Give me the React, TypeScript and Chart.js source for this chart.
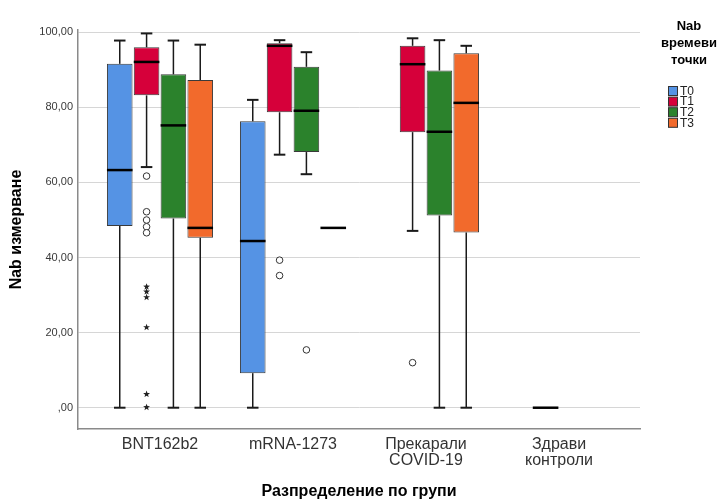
import React, { useEffect, useRef } from 'react';
import { Chart, registerables } from 'chart.js';

Chart.register(...registerables);

// ---------- data ----------
const categories: (string | string[])[] = ['BNT162b2', 'mRNA-1273', ['Прекарали', 'COVID-19'], ['Здрави', 'контроли']];
const categoryIndex = [0, 1, 2, 3];
const seriesNames = ['T0', 'T1', 'T2', 'T3'];
const seriesColors = ['#5593E4', '#D6003A', '#2B822C', '#F26A2C'];

// [min, q1, median, q3, max] per category
const t0Stats = [[0, 48.4, 63.3, 91.6, 97.8], [0, 9.2, 44.4, 76.3, 82.0], null, null];
const t1Stats = [[64.1, 83.2, 92.1, 96.0, 99.7], [67.4, 78.7, 96.4, 97.1, 97.9], [47.1, 73.4, 91.5, 96.4, 98.4], [0, 0, 0, 0, 0]];
const t2Stats = [[0, 50.4, 75.2, 88.8, 97.8], [62.2, 68.1, 79.1, 90.8, 94.7], [0, 51.2, 73.5, 89.8, 97.9], null];
const t3Stats = [[0, 45.3, 47.9, 87.3, 96.7], [47.9, 47.9, 47.9, 47.9, 47.9], [0, 46.7, 81.2, 94.4, 96.4], null];

// outliers (circles) and extremes (stars) per category
const t0Outliers: number[][] = [[], [], [], []];
const t1Outliers: number[][] = [[61.7, 52.2, 50.0, 48.2, 46.6], [39.3, 35.2], [12.0], []];
const t2Outliers: number[][] = [[], [15.4], [], []];
const t3Outliers: number[][] = [[], [], [], []];
const t0Extremes: number[][] = [[], [], [], []];
const t1Extremes: number[][] = [[32.2, 30.9, 29.4, 21.4, 3.6, 0.1], [], [], []];
const t2Extremes: number[][] = [[], [], [], []];
const t3Extremes: number[][] = [[], [], [], []];

const yTickValues = [0, 20, 40, 60, 80, 100];
const yTickLabels = [',00', '20,00', '40,00', '60,00', '80,00', '100,00'];
const legendTitle = ['Nab', 'времеви', 'точки'];

const allStats = [t0Stats, t1Stats, t2Stats, t3Stats];
const allOutliers = [t0Outliers, t1Outliers, t2Outliers, t3Outliers];
const allExtremes = [t0Extremes, t1Extremes, t2Extremes, t3Extremes];

const FONT = "Arial, 'Liberation Sans', sans-serif";

const boxPlugin = {
  id: 'boxDetails',
  afterDatasetsDraw(chart: any) {
    const ctx = chart.ctx;
    const ys = chart.scales.y;
    ctx.save();
    allStats.forEach((stats, di) => {
      const meta = chart.getDatasetMeta(di);
      meta.data.forEach((el: any, i: number) => {
        const s = stats[i];
        if (!s) return;
        const { x, width } = el.getProps(['x', 'width'], true);
        const [mn, q1, md, q3, mx] = s;
        const capW = width * 0.45;
        ctx.strokeStyle = '#1a1a1a';
        ctx.lineCap = 'butt';
        if (mx > q3) {
          ctx.lineWidth = 1.5;
          ctx.beginPath();
          ctx.moveTo(x, ys.getPixelForValue(q3));
          ctx.lineTo(x, ys.getPixelForValue(mx));
          ctx.stroke();
          ctx.lineWidth = 2;
          ctx.beginPath();
          ctx.moveTo(x - capW / 2, ys.getPixelForValue(mx));
          ctx.lineTo(x + capW / 2, ys.getPixelForValue(mx));
          ctx.stroke();
        }
        if (q1 > mn) {
          ctx.lineWidth = 1.5;
          ctx.beginPath();
          ctx.moveTo(x, ys.getPixelForValue(q1));
          ctx.lineTo(x, ys.getPixelForValue(mn));
          ctx.stroke();
          ctx.lineWidth = 2;
          ctx.beginPath();
          ctx.moveTo(x - capW / 2, ys.getPixelForValue(mn));
          ctx.lineTo(x + capW / 2, ys.getPixelForValue(mn));
          ctx.stroke();
        }
        // median
        ctx.strokeStyle = '#000';
        ctx.lineWidth = 2.5;
        ctx.beginPath();
        ctx.moveTo(x - width / 2, ys.getPixelForValue(md));
        ctx.lineTo(x + width / 2, ys.getPixelForValue(md));
        ctx.stroke();
        // outliers
        ctx.lineWidth = 1;
        ctx.strokeStyle = '#333';
        ctx.fillStyle = '#fff';
        allOutliers[di][i].forEach((v) => {
          ctx.beginPath();
          ctx.arc(x, ys.getPixelForValue(v), 3.3, 0, Math.PI * 2);
          ctx.fill();
          ctx.stroke();
        });
        ctx.fillStyle = '#222';
        allExtremes[di][i].forEach((v) => {
          const cy = ys.getPixelForValue(v);
          ctx.beginPath();
          for (let k = 0; k < 10; k++) {
            const r = k % 2 === 0 ? 3.6 : 1.5;
            const a = -Math.PI / 2 + (k * Math.PI) / 5;
            const px = x + r * Math.cos(a);
            const py = cy + r * Math.sin(a);
            if (k === 0) ctx.moveTo(px, py);
            else ctx.lineTo(px, py);
          }
          ctx.closePath();
          ctx.fill();
        });
      });
    });
    ctx.restore();
  },
};

const legendPlugin = {
  id: 'spssLegend',
  afterDraw(chart: any) {
    const ctx = chart.ctx;
    ctx.save();
    ctx.fillStyle = '#000';
    ctx.font = `bold 13px ${FONT}`;
    ctx.textAlign = 'center';
    ctx.textBaseline = 'middle';
    legendTitle.forEach((t, i) => {
      ctx.fillText(t, 689, 26 + i * 17);
    });
    ctx.font = `12px ${FONT}`;
    ctx.textAlign = 'left';
    seriesNames.forEach((n, i) => {
      const cy = 91 + i * 10.6;
      ctx.fillStyle = seriesColors[i];
      ctx.fillRect(668, cy - 4.5, 9, 9);
      ctx.strokeStyle = '#333';
      ctx.lineWidth = 1;
      ctx.strokeRect(668.5, cy - 4.5, 9, 9);
      ctx.fillStyle = '#222';
      ctx.fillText(n, 680, cy + 0.5);
    });
    ctx.restore();
  },
};

export default function App() {
  const ref = useRef<HTMLCanvasElement>(null);
  useEffect(() => {
    if (!ref.current) return;
    const datasets = allStats.map((stats, di) => ({
      label: seriesNames[di],
      data: stats.map((s, i) => ({ x: categoryIndex[i], y: s ? [s[1], s[3]] : null })),
      backgroundColor: seriesColors[di],
      borderColor: '#3a3a3a',
      borderWidth: 1,
      borderSkipped: false,
      categoryPercentage: 0.807,
      barPercentage: 0.954,
    }));
    const chart = new Chart(ref.current, {
      type: 'bar',
      data: { datasets: datasets as any },
      plugins: [boxPlugin, legendPlugin],
      options: {
        animation: false,
        responsive: false,
        devicePixelRatio: 1,
        layout: { padding: { left: 0, right: 80, top: 30, bottom: 0 } },
        plugins: { legend: { display: false }, tooltip: { enabled: false } },
        scales: {
          x: {
            type: 'linear',
            min: -0.6165,
            max: 3.609,
            offset: false,
            afterBuildTicks: (s: any) => {
              s.ticks = categoryIndex.map((v) => ({ value: v }));
            },
            afterFit: (s: any) => {
              s.height = 72;
            },
            grid: { display: false, drawTicks: false },
            border: { display: true, color: '#8a8a8a', width: 1.5 },
            ticks: {
              autoSkip: false,
              maxRotation: 0,
              padding: 8,
              color: '#333',
              font: { family: FONT, size: 16, lineHeight: '16px' },
              callback: (v: any) => categories[v as number] as any,
            },
            title: {
              display: true,
              text: 'Разпределение по групи',
              color: '#000',
              font: { family: FONT, size: 16, weight: 'bold' },
              padding: { top: 0, bottom: 0 },
            },
          },
          y: {
            min: -5.67,
            max: 100.61,
            afterBuildTicks: (s: any) => {
              s.ticks = yTickValues.map((v) => ({ value: v }));
            },
            afterFit: (s: any) => {
              s.width = 78;
            },
            grid: { color: '#d6d6d6', lineWidth: 1, drawTicks: false },
            border: { display: true, color: '#8a8a8a', width: 1.5 },
            ticks: {
              padding: 5,
              color: '#3a3a3a',
              font: { family: FONT, size: 11 },
              callback: (v: any) => yTickLabels[yTickValues.indexOf(v as number)],
            },
            title: {
              display: true,
              text: 'Nab измерване',
              color: '#000',
              font: { family: FONT, size: 16, weight: 'bold' },
              padding: { top: 7, bottom: 0 },
            },
          },
        },
      } as any,
    });
    return () => chart.destroy();
  }, []);
  return (
    <canvas
      ref={ref}
      width={720}
      height={501}
      style={{ position: 'absolute', left: 0, top: 0, width: 720, height: 501, background: '#fff' }}
    />
  );
}
